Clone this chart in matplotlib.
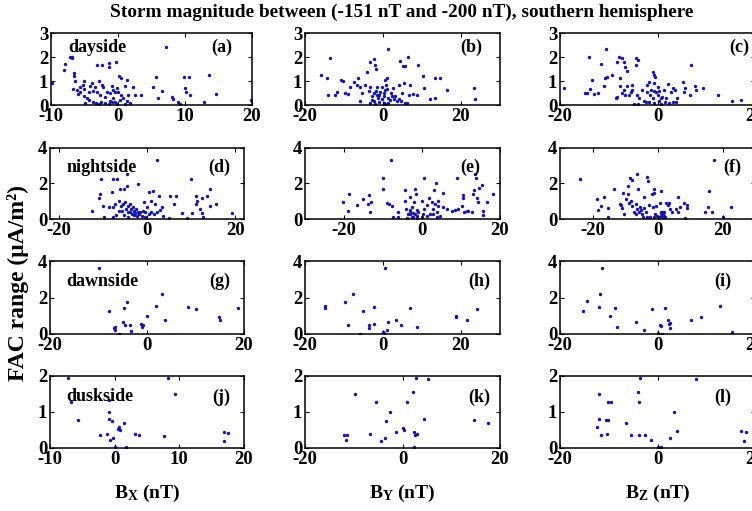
import numpy as np
import matplotlib
matplotlib.use("Agg")
import matplotlib.pyplot as plt

plt.rcParams['font.family'] = ['Liberation Serif', 'DejaVu Serif']
plt.rcParams['font.weight'] = 'bold'
plt.rcParams['axes.unicode_minus'] = False
plt.rcParams['mathtext.fontset'] = 'custom'
plt.rcParams['mathtext.rm'] = 'Liberation Serif:bold'
plt.rcParams['mathtext.bf'] = 'Liberation Serif:bold'
plt.rcParams['mathtext.it'] = 'Liberation Serif:bold:italic'

# ---- data: (B component, FAC range) per panel ----
# (a) dayside, Bx
a_x = [-9.85, -8.1, -7.9, -7.2, -6.9, -6.8, -6.5, -6.5, -6.4, -6.7, -6.1, -5.7, -5.2, -5.0, -5.9,
       -5.1, -4.7, -4.9, -4.2, -3.9, -3.4, -3.7, -3.2, -4.3, -3.8, -3.3, -2.9, -2.6, -3.2, -2.4,
       -1.4, -1.3, -0.3, -2.9, -2.4, -2.2, -2.7, -1.9, -1.7, -1.2, -0.7, -0.4, -0.1, 0.05, -0.7,
       -1.2, -0.4, -0.1, 0.3, 0.5, 0.8, 0.2, 0.4, 1.3, 1.0, 1.5, 1.8, 2.3, 2.5, 3.4, 1.3, 5.2,
       5.7, 6.5, 5.9, 7.2, 8.0, 8.2, 9.0, 9.2, 9.8, 10.6, 10.0, 10.2, 10.7, 12.8, 13.6, 14.6, 19.9,
       -5.6, -4.4, -5.1, -0.9, -1.9, -1.3, 1.1, -0.9]
a_y = [0.91, 1.46, 1.70, 1.98, 2.02, 1.95, 1.32, 1.19, 1.00, 0.67, 0.63, 0.77, 0.84, 0.67, 0.46,
       0.39, 0.31, 0.07, 0.80, 0.91, 0.77, 0.59, 0.53, 0.21, 0.11, 0.07, 0.03, 0.14, 1.67, 1.67,
       1.74, 1.60, 1.81, 0.98, 0.84, 0.73, 0.42, 0.35, 0.56, 0.49, 0.63, 0.56, 0.70, 0.53, 0.28,
       0.17, 0.11, 0.03, 0.21, 0.42, 0.28, 1.19, 1.12, 1.05, 0.81, 0.42, 0.07, 0.77, 0.42, 0.42, 0.17, 0.73,
       1.16, 0.59, 0.28, 2.40, 0.35, 0.25, 0.11, 0.06, 1.16, 1.16, 0.70, 0.56, 0.42, 0.14, 1.26, 0.46, 0.21,
       0.56, 0.56, 0.98, 0.81, 0.07, 0.03, 0.03, 0.11]
# (b) dayside, By
b_x = [-15.9, -14.3, -13.6, -14.2, -12.3, -11.9, -10.8, -10.3, -9.7, -8.9, -7.4, -6.7, -6.3, -5.8,
       -6.0, -5.4, -4.7, -4.1, -3.3, -2.4, -2.0, -1.7, -3.7, -3.3, -2.8, -2.4, -2.2, -2.0, -1.6, -1.6,
       -1.4, -0.7, -0.3, 0.2, 0.3, 0.6, 0.8, 1.0, 1.4, 1.4, 2.0, 2.6, 3.2, 3.6, 4.0, 4.4, 4.9, 5.1,
       5.7, 5.3, 5.7, 6.3, 6.2, 6.6, 7.0, 7.7, 8.6, 9.0, 10.3, 10.6, 12.0, 13.3, 13.4, 14.7, 16.4,
       23.3, 23.7, -1.1, -0.3, 0.6, 1.4, 1.9, -0.9, -1.7, 0.2, 2.3, 2.7, 4.0, 4.6, -2.8, -3.4, -8.4,
       0.6, 1.0]
b_y = [1.24, 1.14, 1.96, 0.43, 0.43, 0.53, 1.04, 1.00, 0.50, 0.47, 0.97, 0.84, 1.14, 0.77, 0.16,
       0.50, 0.84, 1.38, 1.78, 1.92, 1.65, 1.51, 0.57, 0.77, 0.36, 0.50, 0.16, 0.05, 0.77, 0.43, 0.30,
       0.54, 0.77, 0.09, 0.36, 0.64, 0.84, 0.68, 2.35, 0.30, 0.50, 0.70, 0.36, 0.16, 0.84, 1.85, 0.50,
       1.62, 1.62, 0.91, 0.09, 1.99, 0.09, 0.43, 0.84, 0.46, 0.43, 1.65, 1.22, 0.70, 0.23, 1.14, 0.30,
       1.14, 0.64, 0.70, 0.23, 0.14, 0.23, 0.05, 0.09, 0.19, 0.43, 0.59, 0.50, 0.36, 0.23, 0.23, 0.16,
       0.19, 0.09, 0.77, 1.04, 1.11]
# (c) dayside, Bz
c_x = [-19.1, -14.8, -14.1, -14.5, -13.8, -13.4, -13.1, -12.3, -11.5, -10.9, -10.6, -10.7, -10.3,
       -9.3, -8.6, -8.3, -8.3, -7.9, -7.6, -7.2, -7.6, -7.2, -6.9, -6.6, -6.2, -6.9, -6.6, -6.2, -5.9,
       -5.5, -5.2, -5.3, -4.8, -4.5, -4.1, -4.5, -4.3, -4.0, -3.8, -3.1, -2.8, -2.2, -2.1, -1.7, -1.7,
       -1.4, -1.0, -0.7, -0.8, -0.5, -1.0, -0.7, -0.3, 0.0, 0.1, 0.3, 0.7, 1.0, 1.4, 1.5, 2.1, 2.4,
       2.8, 3.1, 3.1, 3.6, 3.8, 4.1, 5.2, 5.5, 5.7, 6.9, 6.6, 7.6, 7.9, 9.3, 12.4, 15.3, 17.2,
       -2.4, -1.5, 0.7, 1.7, -0.8, 0.3]
c_y = [0.69, 0.48, 1.98, 0.48, 0.66, 1.04, 0.44, 0.48, 1.69, 0.80, 2.35, 1.13, 1.18, 1.24, 0.30,
       0.35, 1.80, 2.01, 1.13, 1.94, 0.80, 0.48, 1.80, 1.59, 1.41, 0.62, 0.41, 0.80, 0.41, 0.55, 0.83,
       0.62, 0.03, 1.94, 1.87, 1.66, 0.41, 0.03, 0.30, 0.62, 0.17, 0.55, 0.83, 0.97, 0.11, 0.62, 1.36,
       1.24, 0.90, 1.18, 0.28, 0.07, 0.53, 0.76, 0.41, 0.17, 0.03, 0.35, 0.62, 0.11, 0.86, 0.07, 0.55,
       0.69, 0.11, 0.62, 0.14, 0.30, 0.97, 0.55, 0.72, 1.66, 0.41, 0.80, 0.62, 0.69, 0.41, 0.17, 0.21,
       0.11, 0.41, 0.28, 0.28, 0.58, 0.58]
# (d) nightside, Bx
d_x = [-12.5, -11.0, -10.6, -10.5, -9.9, -9.7, -8.7, -8.0, -7.7, -7.2, -6.7, -7.0, -6.4, -6.1, -5.9,
       -5.7, -5.3, -4.9, -4.5, -4.5, -4.4, -4.2, -3.8, -3.6, -3.4, -3.2, -2.9, -2.7, -2.4, -2.1, -1.9,
       -1.5, -1.1, -0.8, -2.1, -0.6, -0.4, 0.0, 0.4, 0.8, 0.9, 1.4, 1.7, 1.9, 2.3, 2.7, 3.0, 3.4, 3.6,
       4.9, 5.3, 6.5, 6.2, 8.0, 9.1, 9.9, 10.2, 11.0, 11.2, 11.4, 12.1, 12.4, 12.5, 12.8, 13.7, 14.3,
       14.3, 15.6, 19.2, -5.2, -4.2, -4.7, -3.0, -2.3, -3.8, -5.5, -6.4, -7.6, -0.4, 0.4, 2.3, -7.6]
d_y = [0.47, 1.17, 1.42, 2.23, 0.75, 0.09, 0.66, 1.51, 2.26, 0.85, 2.26, 0.23, 1.04, 1.70, 0.75,
       0.47, 1.70, 0.94, 1.85, 2.55, 0.72, 0.38, 0.85, 0.57, 0.28, 0.66, 0.47, 0.34, 0.57, 0.42, 0.28,
       0.38, 0.19, 0.47, 1.98, 0.94, 0.09, 0.66, 1.51, 1.04, 0.42, 1.60, 0.28, 0.85, 3.30, 1.32, 0.53,
       0.66, 0.19, 0.04, 1.32, 1.32, 0.85, 0.34, 0.04, 2.26, 0.34, 1.32, 0.85, 1.04, 0.57, 1.17, 0.34,
       0.09, 1.32, 1.70, 0.72, 0.85, 0.34, 0.23, 0.09, 0.57, 0.23, 0.15, 0.42, 0.85, 0.47, 0.66, 0.38,
       0.28, 0.38, 0.09]
# (e) nightside, By
e_x = [-20.3, -19.1, -18.6, -16.6, -15.2, -13.8, -13.5, -13.3, -13.1, -10.1, -10.1, -8.9, -8.4, -8.0,
       -7.8, -7.5, -6.1, -6.1, -4.4, -4.4, -4.0, -3.5, -3.8, -3.1, -3.2, -2.6, -2.2, -2.1, -1.8, -1.5,
       -2.2, -1.4, -1.2, -0.1, -0.1, 0.5, 0.5, 1.2, 1.9, 2.1, 2.5, 2.7, 3.1, 3.3, 3.6, 3.8, 4.2, 4.2,
       4.6, 5.5, 5.5, 6.3, 7.6, 8.5, 9.1, 9.3, 10.2, 10.4, 10.4, 10.8, 11.5, 11.9, 12.7, 13.2, 13.3,
       13.6, 13.8, 14.0, 14.4, 14.7, 15.3, 15.6, 15.7, 16.6, 18.1, -3.1, -2.6, -1.8, -3.1, -0.9, 1.2,
       2.9, 3.8, 0.3, -1.4]
e_y = [0.93, 0.43, 1.43, 0.80, 1.12, 0.84, 1.36, 0.37, 0.93, 2.29, 1.67, 0.89, 0.84, 3.35, 0.74,
       0.13, 0.37, 0.09, 1.62, 1.02, 0.56, 0.28, 0.06, 1.25, 0.50, 0.69, 0.32, 0.93, 1.67, 1.43, 0.09,
       0.50, 0.19, 1.02, 0.09, 2.33, 0.56, 0.80, 1.21, 0.28, 0.93, 0.56, 1.62, 0.84, 2.05, 0.37, 1.02,
       0.74, 0.19, 1.49, 0.65, 0.56, 0.43, 0.50, 2.29, 0.56, 0.74, 1.36, 1.21, 0.37, 0.47, 0.43, 0.37,
       1.40, 1.62, 2.55, 2.33, 1.21, 0.93, 1.77, 1.92, 0.47, 0.24, 0.93, 1.40, 0.28, 0.09, 0.28, 0.43,
       0.37, 0.19, 0.28, 0.09, 0.28, 0.06]
# (f) nightside, Bz
f_x = [-23.8, -18.7, -18.3, -17.4, -16.6, -15.2, -15.2, -13.5, -11.5, -11.3, -10.8, -10.5, -10.3,
       -9.7, -9.2, -9.0, -8.7, -8.4, -8.2, -7.7, -7.7, -7.2, -6.7, -6.4, -6.4, -5.9, -5.6, -5.3, -4.9,
       -4.6, -4.3, -4.1, -3.6, -3.3, -2.9, -2.6, -2.3, -1.8, -1.5, -1.2, -1.0, -0.8, -0.5, -0.2, 0.2,
       0.8, 1.0, 1.2, 1.5, 1.8, 2.1, 2.3, 2.6, 3.1, 3.6, 3.9, 4.6, 5.6, 6.2, 6.2, 7.0, 8.0, 8.4, 9.0,
       9.2, 14.6, 15.6, 15.9, 16.9, 17.4, 20.0, 22.6, 1.0, 1.5, 1.8, 1.2, 2.1, 0.8, -1.0, -3.1, -6.7,
       -5.1]
f_y = [2.27, 1.11, 0.50, 0.74, 1.24, 0.61, 0.13, 1.71, 0.87, 0.79, 0.61, 1.47, 0.28, 1.11, 1.84,
       1.42, 0.92, 2.30, 1.01, 2.21, 0.74, 0.42, 0.83, 2.53, 0.55, 1.71, 0.37, 0.68, 0.28, 0.09, 1.24,
       0.61, 0.37, 2.34, 2.12, 0.79, 0.09, 1.42, 0.65, 1.71, 1.47, 0.28, 0.74, 0.18, 0.09, 0.92, 0.37,
       1.60, 0.28, 0.42, 0.18, 0.09, 0.92, 0.79, 0.92, 0.55, 0.37, 0.55, 1.24, 0.42, 0.65, 0.92, 0.06,
       0.79, 0.61, 0.37, 0.68, 1.60, 0.42, 3.32, 0.13, 0.65, 0.18, 0.09, 0.28, 0.31, 0.37, 0.13, 0.13,
       0.13, 0.28, 0.50]
# (g) dawnside, Bx
g_x = [-10.0, -7.9, -6.8, -6.6, -5.7, -5.0, -4.7, -4.5, -4.2, -3.6, -3.4, -1.3, -1.1, -0.9, -0.1,
       1.8, 3.0, 3.7, 8.5, 10.2, 14.9, 15.1, 18.8, -6.7]
g_y = [3.59, 1.24, 0.32, 0.21, 0.0, 0.68, 1.42, 0.50, 1.78, 0.50, 0.14, 0.57, 0.36, 0.50, 0.98,
       1.51, 2.17, 0.75, 1.46, 1.39, 0.92, 0.75, 1.42, 0.39]
# (h) dawnside, By
h_x = [-14.9, -14.9, -9.7, -9.0, -7.7, -6.0, -5.2, -3.7, -3.5, -2.4, -2.2, 0.0, 0.3, 0.6, 1.0, 1.4,
       3.4, 4.6, 6.8, 8.6, 18.6, 18.8, 21.6, 24.0]
h_y = [1.51, 1.42, 1.78, 0.50, 2.17, 0.0, 1.28, 0.50, 0.32, 0.57, 1.46, 0.09, 0.04, 3.59, 0.21, 0.68,
       0.75, 0.50, 1.42, 0.39, 0.92, 0.98, 0.75, 1.39]
# (i) dawnside, Bz
i_x = [-15.3, -14.5, -12.1, -11.7, -11.4, -9.8, -8.8, -8.4, -4.5, -2.8, -1.2, 0.0, 0.6, 0.8, 1.0, 1.5,
       2.1, 2.3, 2.6, 2.6, 6.9, 9.0, 12.8, 15.2]
i_y = [1.26, 1.80, 1.48, 2.20, 3.64, 0.99, 1.44, 0.40, 0.68, 0.22, 1.39, 0.04, 0.50, 0.45, 0.0, 1.44,
       0.76, 0.54, 0.63, 0.32, 0.76, 0.94, 1.53, 0.09]
# (j) duskside, Bx
j_x = [-7.2, -6.7, -5.6, -2.3, -1.2, -0.9, -0.9, -0.8, -0.7, -0.4, -0.2, 0.5, 0.7, 0.9, 0.0, 1.4, 1.7,
       3.2, 3.7, 7.7, 8.2, 9.3, 16.9, 17.6, 16.9]
j_y = [1.95, 1.29, 0.78, 0.35, 0.39, 1.34, 0.81, 1.00, 0.23, 0.76, 0.29, 0.53, 0.57, 0.51, 0.02, 0.69,
       0.02, 0.39, 0.37, 0.32, 1.94, 1.49, 0.44, 0.43, 0.20]
# (k) duskside, By
k_x = [-12.0, -11.6, -11.3, -9.8, -6.7, -5.4, -4.5, -3.6, -3.3, -2.6, -1.3, 0.2, 0.3, 1.0, 2.2, 2.4,
       2.4, 2.6, 2.9, 2.8, 4.5, 5.3, 14.7, 17.6]
k_y = [0.35, 0.23, 0.37, 1.49, 0.39, 1.29, 0.20, 0.28, 0.76, 1.00, 0.44, 0.55, 0.51, 1.27, 1.55, 0.44,
       0.02, 0.37, 0.39, 1.95, 0.81, 1.92, 0.78, 0.69]
# (l) duskside, Bz
l_x = [-12.5, -12.0, -11.9, -11.5, -10.6, -10.1, -10.4, -10.1, -9.6, -6.5, -5.4, -4.0, -3.7, -3.7,
       -3.5, -2.5, -1.4, 0.1, 0.7, 2.6, 3.3, 4.1, 7.8, 17.2, 18.1, 17.8]
l_y = [0.57, 0.81, 1.49, 0.35, 0.78, 0.78, 0.39, 1.29, 1.27, 0.69, 0.37, 1.55, 1.29, 0.35, 1.95, 0.37,
       0.23, 0.02, 0.02, 0.29, 1.00, 0.48, 1.92, 0.46, 0.44, 0.20]

sides = ["dayside", "nightside", "dawnside", "duskside"]
letters = ["(a)", "(b)", "(c)", "(d)", "(e)", "(f)", "(g)", "(h)", "(i)", "(j)", "(k)", "(l)"]
xs = [a_x, b_x, c_x, d_x, e_x, f_x, g_x, h_x, i_x, j_x, k_x, l_x]
ys = [a_y, b_y, c_y, d_y, e_y, f_y, g_y, h_y, i_y, j_y, k_y, l_y]
xlims = [(-10, 20), (-20, 30), (-20, 20),
         (-22, 22), (-30, 20), (-30, 30),
         (-20, 20), (-20, 30), (-20, 20),
         (-10, 20), (-20, 20), (-20, 20)]
ylims = [3, 4, 4, 2]
yticks = [[0, 1, 2, 3], [0, 2, 4], [0, 2, 4], [0, 1, 2]]

W, H = 752, 511
fig = plt.figure(figsize=(W / 100, H / 100), dpi=100)

# pixel boxes (left, right) per column and (top, bottom) per row
cols = [(50, 244), (305, 500), (560, 755)]
rows = [(33, 105), (148, 219), (261, 334), (376, 448)]
letter_x = [[0.90, 0.91, 0.97], [0.93, 0.90, 0.93], [0.93, 0.95, 0.88], [0.93, 0.95, 0.88]]
side_y = [0.80, 0.73, 0.72, 0.71]
dot_color = '#1414b4'

for r in range(4):
    for c in range(3):
        k = r * 3 + c
        x0, x1 = cols[c]
        if r == 0 and c == 0:
            x0, x1 = 51, 252
        t, b = rows[r]
        ax = fig.add_axes([x0 / W, 1 - b / H, (x1 - x0) / W, (b - t) / H])
        ax.scatter(xs[k], ys[k], s=6, color=dot_color, linewidths=0)
        ax.set_xlim(*xlims[k])
        ax.set_ylim(0, ylims[r])
        ax.set_yticks(yticks[r])
        if xlims[k][0] == -10:
            ax.set_xticks([-10, 0, 10, 20])
        else:
            ax.set_xticks([-20, 0, 20])
        ax.tick_params(direction='in', top=True, right=True, length=3, width=0.8,
                       labelsize=13.5, pad=2)
        for lab in ax.get_xticklabels() + ax.get_yticklabels():
            lab.set_fontweight('bold')
        for sp in ax.spines.values():
            sp.set_linewidth(1.1)
        ax.text(letter_x[r][c], side_y[r], letters[k], transform=ax.transAxes,
                ha='right', va='center', fontsize=13, fontweight='bold')
        if c == 0:
            ax.text(0.085, side_y[r], sides[r], transform=ax.transAxes,
                    ha='left', va='center', fontsize=13, fontweight='bold')
        if r == 3:
            comp = ["X", "Y", "Z"][c]
            ax.set_xlabel(r'B$_{\mathbf{%s}}$ (nT)' % comp, fontsize=14,
                          fontweight='bold', labelpad=11)

fig.text(402 / W, 1 - 12 / H, "Storm magnitude between (-151 nT and -200 nT), southern hemisphere",
         ha='center', va='center', fontsize=13.9, fontweight='bold')
fig.text(18 / W, 1 - 283 / H, "FAC range (μA/m²)", rotation=90,
         ha='center', va='center', fontsize=17, fontweight='bold')

fig.savefig("out.png", dpi=100)
